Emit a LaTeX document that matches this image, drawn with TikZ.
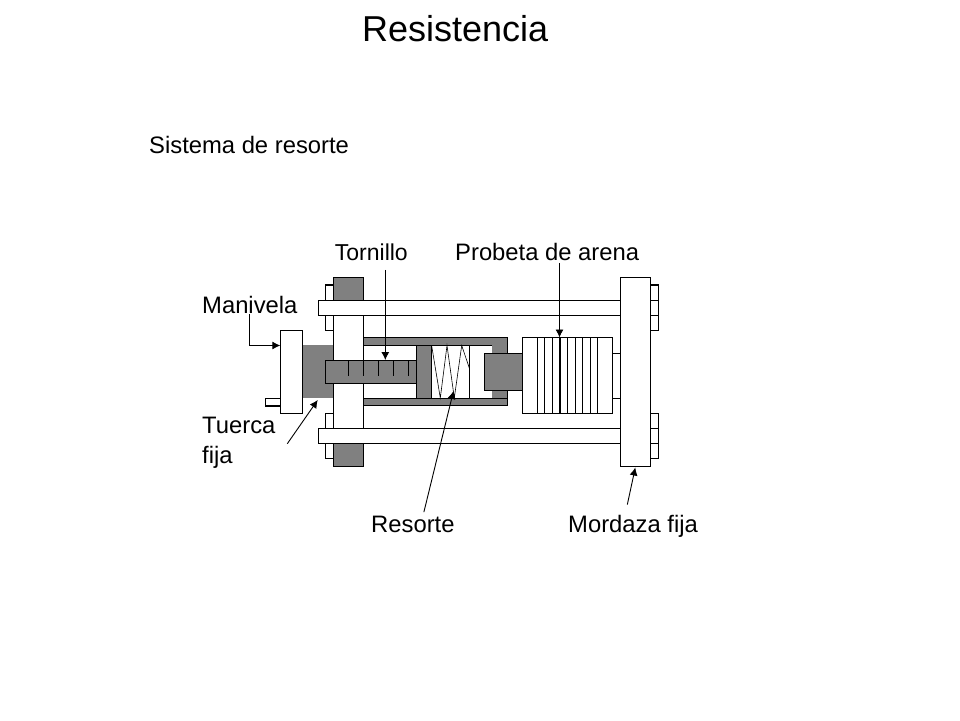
\documentclass[tikz,border=0pt]{standalone}
\usepackage{fontspec}
\setmainfont{Liberation Sans}
\usetikzlibrary{positioning, arrows.meta}
\definecolor{pieza}{gray}{0.5}
\tikzset{
  blanco/.style={draw=black, fill=white, line width=1.1pt},
  gris/.style={fill=pieza, draw=none},
  grisb/.style={fill=pieza, draw=black, line width=1.1pt},
  rotulo/.style={inner sep=0pt, font=\fontsize{23.8}{28}\selectfont, anchor=base west},
  flecha/.style={-{Latex[length=8pt,width=8pt]}, line width=0.9pt}
}
\begin{document}
\begin{tikzpicture}[x=1pt, y=-1pt]
  \useasboundingbox (0,0) rectangle (960,720);
  \node [inner sep=0pt, font=\fontsize{36}{40}\selectfont, anchor=base west] (titulo) at (362,41) {Resistencia};
  \node [rotulo] (sistema) at (149,153) {Sistema de resorte};
  \node [rotulo, font=\fontsize{23}{28}\selectfont] (tornillo) at (334.7,260) {Tornillo};
  \node [rotulo] (probeta) at (455,260) {Probeta de arena};
  \node [rotulo] (manivela) at (202,313) {Manivela};
  \node [rotulo] (tuerca) at (202,433) {Tuerca};
  \node [rotulo] (fija) at (202,463) {fija};
  \node [rotulo] (resorte) at (371,532) {Resorte};
  \node [rotulo] (mordaza) at (568,532) {Mordaza fija};
  % tabs on the left and right
  \draw [blanco] (325.7,285) rectangle (333.3,330.3);
  \draw [blanco] (325.7,413.3) rectangle (333.3,458.3);
  \draw [blanco] (650.3,285) rectangle (658.7,330.3);
  \draw [blanco] (650.3,413.3) rectangle (658.7,458.3);
  \draw [blanco] (650.3,300.3) -- (658.7,300.3) (650.3,315.3) -- (658.7,315.3);
  \draw [blanco] (650.3,428.3) -- (658.7,428.3) (650.3,443.3) -- (658.7,443.3);
  % column
  \draw [grisb] (333.3,277.3) rectangle (363.3,466.7);
  \draw [blanco] (333.3,300.3) rectangle (363.3,443.3);
  % long rods
  \draw [blanco] (318.3,300.3) rectangle (620.3,315.3);
  \draw [blanco] (318.3,428.3) rectangle (620.3,443.3);
  % housing
  \draw [blanco] (363.3,337.7) rectangle (507.3,405.3);
  \draw [grisb] (363.3,337.7) rectangle (507.3,345.3);
  \draw [grisb] (363.3,398.3) rectangle (507.3,405.3);
  \draw [gris] (491.7,345.3) rectangle (507.3,398.3);
  \draw [blanco] (469.3,345.3) -- (469.3,398.3);
  \draw [grisb] (416.7,345.3) rectangle (431.7,398.3);
  % spring
  \draw [line width=0.6pt] (431.7,346) -- (440.3,398) -- (447,345.5) -- (454.3,398) -- (461.7,345.5) -- (469.3,368);
  % handle, plate and nut
  \draw [blanco] (265.3,398.3) rectangle (280.3,406);
  \draw [blanco] (280.3,330.3) rectangle (302.3,413.3);
  \draw [gris] (302.9,345.3) rectangle (333.3,398.3);
  % screw
  \draw [grisb] (325.7,360.3) rectangle (416.7,383.3);
  \foreach \xt in {348.3,363.3,...,408.3}
    \draw [line width=1.1pt] (\xt,360.3) -- (\xt,376);
  % plug and sample
  \draw [blanco] (612.7,353.3) rectangle (620.3,398.3);
  \draw [grisb] (484.3,353.3) rectangle (522.3,390.3);
  \draw [blanco] (522.3,337.7) rectangle (612.7,413.3);
  \foreach \xt in {537.3,544.7,552.3,560,567.7,575.3,582.7,590.3,597.7}
    \draw [line width=1.1pt] (\xt,337.7) -- (\xt,413.3);
  % fixed jaw
  \draw [blanco] (620.3,277.3) rectangle (650.3,466.7);
  % arrows
  \coordinate (puntaT) at (385.3,360);
  \coordinate (puntaP) at (559.5,337.5);
  \coordinate (puntaM) at (280.3,345.5);
  \coordinate (codoM) at (249.3,345.5);
  \coordinate (puntaF) at (317.7,400);
  \coordinate (puntaR) at (453.5,391);
  \coordinate (puntaJ) at (635.3,467.5);
  \draw [flecha] (tornillo.south -| puntaT) ++(0,9.5) -- (puntaT);
  \draw [flecha] (probeta.south -| puntaP) ++(0,2.5) -- (puntaP);
  \draw [flecha] (manivela.south -| codoM) ++(0,0.5) -- (codoM) -- (puntaM);
  \draw [flecha] (tuerca.east) ++(11.7,18.8) -- (puntaF);
  \draw [flecha] (resorte.north) ++(11,-3.3) -- (puntaR);
  \draw [flecha] (mordaza.north) ++(-5.7,-10) -- (puntaJ);
\end{tikzpicture}
\end{document}
